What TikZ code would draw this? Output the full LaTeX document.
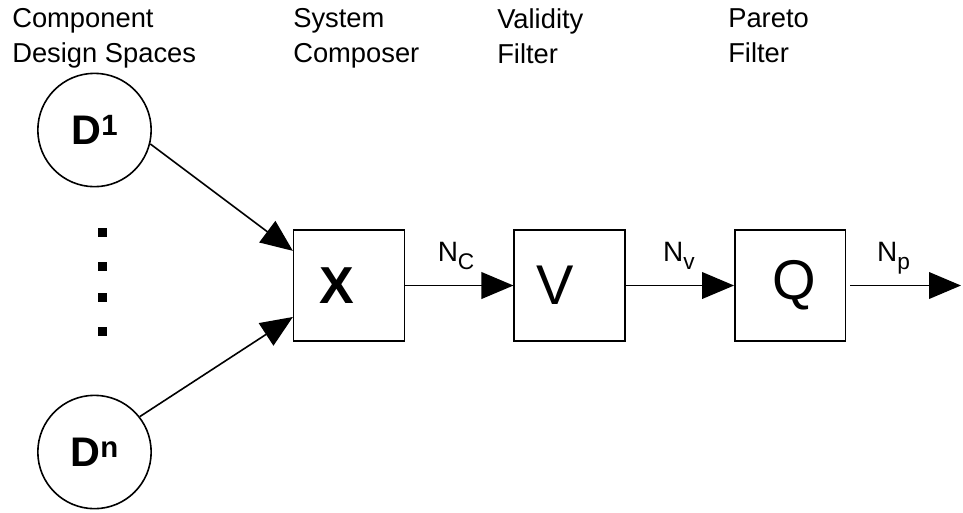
\documentclass[tikz,border=0pt]{standalone}
\usepackage{fontspec}
\setmainfont{Liberation Sans}
\usetikzlibrary{arrows.meta, positioning}
\tikzset{
    space/.style = {circle, draw=black, line width=1.2pt, minimum size=85pt, inner sep=0pt, font=\bfseries\fontsize{31}{31}\selectfont},
    block/.style = {rectangle, draw=black, line width=1.2pt, minimum width=83pt, minimum height=83pt, inner sep=0pt, font=\fontsize{42}{42}\selectfont},
    heading/.style = {anchor=north west, inner sep=0pt, align=left, font=\fontsize{20.5}{26}\selectfont},
    flow/.style = {anchor=base, inner sep=0pt, yshift=18pt, font=\fontsize{21}{21}\selectfont},
    arrow/.style = {line width=1.2pt, -{Triangle[length=24pt, width=20pt]}}
}
\newcommand{\spacelabel}[1]{D\raisebox{6.4pt}{\fontsize{22}{22}\selectfont #1}}
\newcommand{\flowsub}[1]{N\raisebox{-6pt}{\fontsize{17}{17}\selectfont #1}}

\begin{document}
\begin{tikzpicture}[x=0.75pt, y=-0.75pt]
\useasboundingbox (0,0) rectangle (963,512);

\node[heading] (hcomp) at (12,8.5) {Component\\Design Spaces};
\node[heading] (hsys) at (293,8.5) {System\\Composer};
\node[heading] (hval) at (497,8.5) {Validity\\Filter};
\node[heading] (hpar) at (728,8.5) {Pareto\\Filter};

\node[space] (d1) at (94.5,130) {\spacelabel{1}};
\node[space] (dn) at (94.5,452) {\spacelabel{n}};
\foreach \yy in {232.5,266,297.5,331}
    \fill (98,\yy-4.5) rectangle ++(9,9);

\node[block] (x) at (349,285.5) {\hspace{-18pt}\fontsize{39}{39}\selectfont\textbf{X}};
\node[block, right=81.25pt of x] (v) {\hspace{-22pt}V};
\node[block, right=81.25pt of v] (q) {\hspace{6pt}Q};
\coordinate (out) at (961,285.5);

\draw[arrow] (d1.-14) -- ([yshift=26pt]x.west);
\draw[arrow] (dn.38) -- ([yshift=-23.6pt]x.west);
\draw[arrow] (x.east) -- node[flow, pos=0.47]{\flowsub{C}} (v.west);
\draw[arrow] (v.east) -- node[flow, pos=0.49]{\flowsub{v}} (q.west);
\draw[arrow] ([xshift=3pt]q.east) -- node[flow, pos=0.39]{\flowsub{p}} (out);
\end{tikzpicture}
\end{document}
